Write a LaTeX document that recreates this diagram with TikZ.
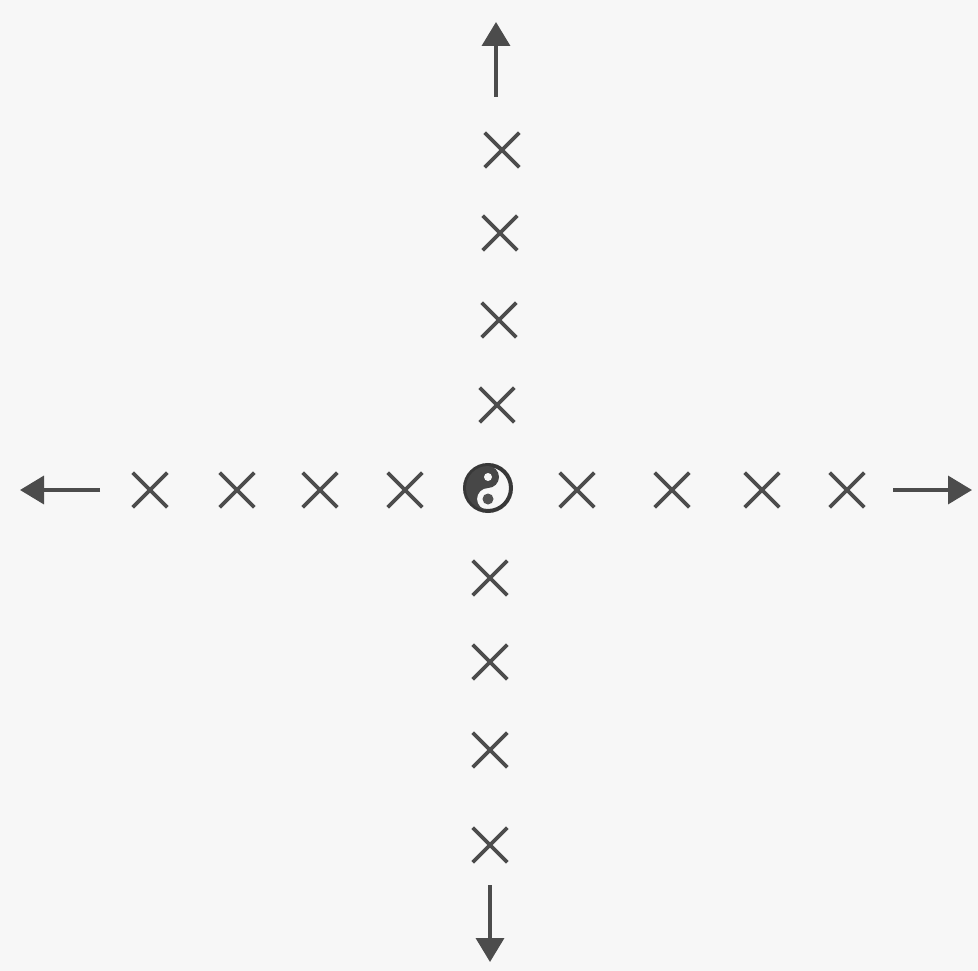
\documentclass[tikz,border=0pt]{standalone}
\usetikzlibrary{shapes.misc,arrows.meta}
\begin{document}
\begin{tikzpicture}[x=1pt,y=-1pt,
  crossmark/.style={cross out,draw=black!70,line width=3.6pt,minimum size=31pt,inner sep=0pt},
  axisarrow/.style={draw=black!70,line width=3.6pt,-{Triangle[length=24pt,width=28pt]}}]
\fill[black!3] (0,0) rectangle (978,971);
\useasboundingbox (0,0) rectangle (978,971);
% centre symbol
\node[circle,draw=black!78,line width=4pt,minimum size=46pt,inner sep=0pt] (c) at (488,488) {};
\begin{scope}[shift={(488,488)},yscale=-1]
\fill[black!72] (0,22) arc (90:270:22) arc (270:90:11) arc (-90:90:11) -- cycle;
\fill[black!68] (0,-11) circle (5.5);
\fill[black!3] (0,11) circle (4);
\end{scope}
% horizontal crosses
\node[crossmark] (l1) at (405,490) {};
\node[crossmark] (l2) at (320,490) {};
\node[crossmark] (l3) at (237,490) {};
\node[crossmark] (l4) at (150,490) {};
\node[crossmark] (r1) at (577,490) {};
\node[crossmark] (r2) at (672,490) {};
\node[crossmark] (r3) at (762,490) {};
\node[crossmark] (r4) at (847,490) {};
% vertical crosses
\node[crossmark] (t1) at (497,405) {};
\node[crossmark] (t2) at (499,320) {};
\node[crossmark] (t3) at (500,233) {};
\node[crossmark] (t4) at (502,150) {};
\node[crossmark] (b1) at (490,578) {};
\node[crossmark] (b2) at (490,662) {};
\node[crossmark] (b3) at (490,750) {};
\node[crossmark] (b4) at (490,845) {};
% arrow ends
\coordinate (ts) at (496,97); \coordinate (te) at (496,22);
\coordinate (bs) at (490,885); \coordinate (be) at (490,962);
\coordinate (ls) at (100,490); \coordinate (le) at (20,490);
\coordinate (rs) at (893,490); \coordinate (re) at (972,490);
\draw[axisarrow] (ts) -- (te);
\draw[axisarrow] (bs) -- (be);
\draw[axisarrow] (ls) -- (le);
\draw[axisarrow] (rs) -- (re);
\end{tikzpicture}
\end{document}
